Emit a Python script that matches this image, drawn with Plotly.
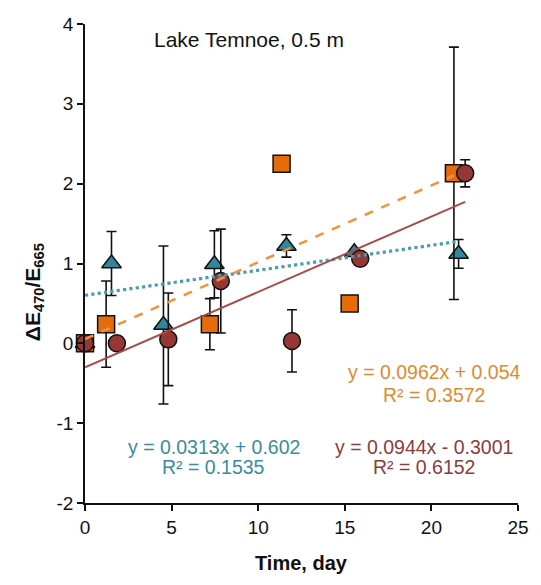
import plotly.graph_objects as go

# ---- data ----
sq_x = [0, 1.22, 7.21, 11.35, 15.28, 21.3]
sq_y = [0, 0.24, 0.24, 2.25, 0.50, 2.13]
sq_err = [0, 0.54, 0.32, 0, 0, 1.58]

tri_x = [0, 1.53, 4.53, 7.47, 11.63, 15.55, 21.57]
tri_y = [0, 1.0, 0.23, 0.99, 1.22, 1.14, 1.12]
tri_err = [0, 0.40, 0.99, 0.42, 0.14, 0, 0.18]

cir_x = [0, 1.84, 4.81, 7.84, 11.95, 15.89, 21.95]
cir_y = [0, 0, 0.05, 0.78, 0.03, 1.06, 2.13]
cir_err = [0, 0, 0.58, 0.65, 0.39, 0, 0.17]

# trendline equations (slope, intercept) as printed on the chart
sq_fit = (0.0962, 0.054)
tri_fit = (0.0313, 0.602)
cir_fit = (0.0944, -0.3001)

sq_eq = ["y = 0.0962x + 0.054", "R² = 0.3572"]
tri_eq = ["y = 0.0313x + 0.602", "R² = 0.1535"]
cir_eq = ["y = 0.0944x - 0.3001", "R² = 0.6152"]

x_ticks = [0, 5, 10, 15, 20, 25]
x_labels = ["0", "5", "10", "15", "20", "25"]
y_ticks = [-2, -1, 0, 1, 2, 3, 4]
y_labels = ["-2", "-1", "0", "1", "2", "3", "4"]

FONT = "Arial, Liberation Sans, sans-serif"
C_SQ, C_TRI, C_CIR = "#E46C0A", "#31859C", "#953735"

fig = go.Figure()

def markers(x, y, err, symbol, color, size):
    fig.add_trace(go.Scatter(
        x=x, y=y, mode="markers",
        marker=dict(symbol=symbol, size=size, color=color,
                    line=dict(color="#111111", width=1.5)),
        error_y=dict(type="data", array=err, visible=True,
                     color="#111111", thickness=1.6, width=5),
        showlegend=False, cliponaxis=False))

markers(tri_x, tri_y, tri_err, "triangle-up", C_TRI, 17)
markers(sq_x, sq_y, sq_err, "square", C_SQ, 17)
markers(cir_x, cir_y, cir_err, "circle", C_CIR, 17)

def trend(xs, fit, color, dash, width):
    x0, x1 = min(xs), max(xs)
    m, b = fit
    fig.add_trace(go.Scatter(
        x=[x0, x1], y=[m * x0 + b, m * x1 + b], mode="lines",
        line=dict(color=color, dash=dash, width=width),
        showlegend=False, hoverinfo="skip"))

trend(tri_x, tri_fit, "#4A9DB0", "dot", 3.2)
trend(sq_x, sq_fit, "#F0923E", "dash", 2.5)
trend(cir_x, cir_fit, "#A84A47", "solid", 2)

ann = []
def eq(lines, xc, y1, y2, color):
    for t, yy in zip(lines, (y1, y2)):
        ann.append(dict(x=xc, y=yy, xref="x", yref="y", text=t, showarrow=False,
                        xanchor="center", yanchor="middle",
                        font=dict(family=FONT, size=19.5, color=color)))

eq(sq_eq, 20.15, -0.36, -0.65, "#DE8B30")
eq(tri_eq, 7.43, -1.30, -1.55, "#3A8CA0")
eq(cir_eq, 19.56, -1.30, -1.55, "#8C3C3C")

ann.append(dict(x=9.47, y=3.81, xref="x", yref="y", text="Lake Temnoe, 0.5 m",
                showarrow=False, xanchor="center", yanchor="middle",
                font=dict(family=FONT, size=21, color="#111111")))
ann.append(dict(x=0.5, y=-0.126, xref="paper", yref="paper", text="<b>Time, day</b>",
                showarrow=False, xanchor="center", yanchor="middle",
                font=dict(family=FONT, size=20, color="#111111")))
ann.append(dict(x=-0.118, y=0.44, xref="paper", yref="paper",
                text="<b>ΔE<sub>470</sub>/E<sub>665</sub></b>", textangle=-90,
                showarrow=False, xanchor="center", yanchor="middle",
                font=dict(family=FONT, size=21, color="#111111")))

fig.update_layout(
    width=541, height=585,
    margin=dict(l=85, r=16, t=24, b=82),
    paper_bgcolor="white", plot_bgcolor="white",
    annotations=ann,
    xaxis=dict(range=[0, 25], tickvals=x_ticks, ticktext=x_labels, ticks="outside",
               ticklen=6, tickwidth=1.5, tickcolor="#111111", showline=True,
               linecolor="#111111", linewidth=1.5, showgrid=False, zeroline=False,
               tickfont=dict(family=FONT, size=19, color="#111111")),
    yaxis=dict(range=[-2, 4], tickvals=y_ticks, ticktext=y_labels, ticks="outside",
               ticklen=6, tickwidth=1.5, tickcolor="#111111", showline=True,
               linecolor="#111111", linewidth=1.5, showgrid=False, zeroline=False,
               tickfont=dict(family=FONT, size=19, color="#111111")),
)

fig.write_html("out.html")
